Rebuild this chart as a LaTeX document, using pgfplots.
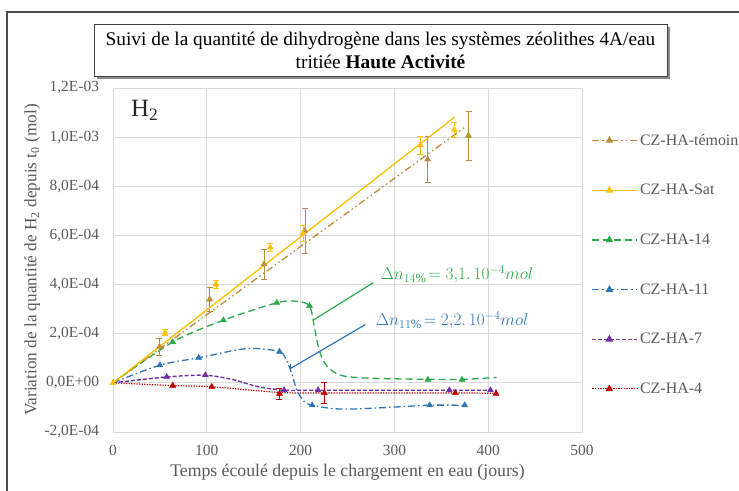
\documentclass[border=0pt]{standalone}
\usepackage{pgfplots}
\pgfplotsset{compat=1.18}
\usepackage{fontspec}
\setmainfont{Liberation Serif}
\usetikzlibrary{shadows}
\definecolor{cTem}{RGB}{184,142,58}
\definecolor{cSat}{RGB}{255,192,0}
\definecolor{cG}{RGB}{43,170,74}
\definecolor{cB}{RGB}{46,117,182}
\definecolor{cP}{RGB}{112,48,160}
\definecolor{cR}{RGB}{192,0,0}
\definecolor{txtgray}{RGB}{89,89,89}
\definecolor{gridgray}{RGB}{217,217,217}
\tikzset{
  temline/.style={cTem, line width=1.3bp, dash pattern=on 7bp off 3bp on 1.5bp off 3bp on 1.5bp off 3bp},
  satline/.style={cSat, line width=1.3bp},
  gline/.style={cG, line width=1.3bp, dash pattern=on 7bp off 4bp},
  bline/.style={cB, line width=1.3bp, dash pattern=on 7bp off 3bp on 1.5bp off 3bp},
  pline/.style={cP, line width=1.4bp, dash pattern=on 4bp off 2bp},
  rline/.style={cR, line width=1.2bp, dash pattern=on 1.3bp off 1.3bp},
}
\begin{document}
\begin{tikzpicture}
\useasboundingbox (0,0) rectangle (739bp,491bp);
\draw[line width=1.2bp, black!70] (7bp,0) -- (7bp,479bp) -- (739bp,479bp);
\begin{axis}[
  at={(113bp,59bp)}, anchor=south west,
  scale only axis, width=469bp, height=344bp,
  xmin=0, xmax=500, ymin=-2e-4, ymax=1.2e-3,
  xtick={0,100,200,300,400,500},
  ytick={-2e-4,0,2e-4,4e-4,6e-4,8e-4,1e-3,1.2e-3},
  yticklabels={{-2,0E-04},{0,0E+00},{2,0E-04},{4,0E-04},{6,0E-04},{8,0E-04},{1,0E-03},{1,2E-03}},
  scaled y ticks=false,
  grid=major, grid style={gridgray, line width=0.8bp},
  axis line style={gridgray, line width=0.8bp},
  major tick length=0pt,
  /pgf/number format/assume math mode=true,
  tick label style={font=\fontsize{15.5}{18}\selectfont, text=txtgray},
  yticklabel style={xshift=-10.5bp},
  xticklabel style={yshift=-10bp},
  xlabel={Temps écoulé depuis le chargement en eau (jours)},
  xlabel style={font=\fontsize{17.8}{20}\selectfont, text=txtgray, at={(axis description cs:0.5,-0.118)}, anchor=center},
  ylabel={Variation de la quantité de H\textsubscript{2} depuis t\textsubscript{0} (mol)},
  ylabel style={font=\fontsize{17.3}{20}\selectfont, text=txtgray, at={(axis description cs:-0.172,0.5)}, anchor=center},
  legend style={at={(axis description cs:1.016,0.878)}, anchor=north west, draw=none, fill=none,
    font=\fontsize{16}{18}\selectfont, text=txtgray, row sep=33.6bp, inner sep=2bp},
  legend cell align=left,
  legend image code/.code={\draw[mark repeat=2,mark phase=2,#1] plot coordinates {(0bp,0bp)(17bp,0bp)(45bp,0bp)};},
  clip=false,
]
\addlegendimage{temline, mark=triangle*, mark size=3.2bp, mark options={solid}}
\addlegendentry{CZ-HA-témoin}
\addlegendimage{satline, mark=triangle*, mark size=3.2bp, mark options={solid}}
\addlegendentry{CZ-HA-Sat}
\addlegendimage{gline, mark=triangle*, mark size=3.2bp, mark options={solid}}
\addlegendentry{CZ-HA-14}
\addlegendimage{bline, mark=triangle*, mark size=3.2bp, mark options={solid}}
\addlegendentry{CZ-HA-11}
\addlegendimage{pline, mark=triangle*, mark size=3.2bp, mark options={solid}}
\addlegendentry{CZ-HA-7}
\addlegendimage{rline, mark=triangle*, mark size=3.2bp, mark options={solid}}
\addlegendentry{CZ-HA-4}

% CZ-HA-4
\addplot[rline, smooth, forget plot] coordinates {(0,0)(63.7,-1.1e-5)(105.3,-1.6e-5)(177.5,-3.9e-5)(225.4,-4.1e-5)(364.9,-4.1e-5)(408.4,-4.3e-5)};
\addplot[cR, only marks, mark=triangle*, mark size=3.5bp, forget plot,
  error bars/.cd, y dir=both, y explicit, error bar style={cR, line width=0.6bp}, error mark options={rotate=90, mark size=3bp, line width=0.6bp, cR}]
  coordinates {(63.7,-1.1e-5) (105.3,-1.6e-5) (177.5,-4.4e-5) +- (0,2.2e-5) (225.4,-4.1e-5) +- (0,4.2e-5) (364.9,-4.1e-5) (408.4,-4.4e-5)};

% CZ-HA-7
\addplot[pline, smooth, forget plot] coordinates {(0,0)(57.3,2.4e-5)(98.5,3.1e-5)(128,1.3e-5)(153,-1.4e-5)(182.5,-3.0e-5)(218.7,-3.0e-5)(358.6,-3.0e-5)(402.4,-3.0e-5)(409,-3.1e-5)};
\addplot[cP, only marks, mark=triangle*, mark size=3.5bp, forget plot]
  coordinates {(57.3,2.4e-5)(98.5,3.1e-5)(182.5,-3.0e-5)(218.7,-3.0e-5)(358.6,-3.0e-5)(402.4,-3.0e-5)};

% CZ-HA-11
\addplot[bline, smooth, forget plot] coordinates {(0,0)(50,7.2e-5)(91.4,1.02e-4)(135,1.36e-4)(157,1.39e-4)(177.5,1.27e-4)(183.3,1.05e-4)(190.4,4.1e-5)(195.7,-2.7e-5)(203.5,-7.5e-5)(212.3,-9.1e-5)(235,-1.05e-4)(260,-1.06e-4)(302.7,-9.8e-5)(337.6,-9.1e-5)(375,-9.1e-5)};
\addplot[cB, only marks, mark=triangle*, mark size=3.5bp, forget plot]
  coordinates {(50,7.2e-5)(91.4,1.02e-4)(177.5,1.27e-4)(212.3,-9.1e-5)(337.6,-9.1e-5)(375,-9.1e-5)};

% CZ-HA-14
\addplot[gline, smooth, forget plot] coordinates {(0,0)(63.7,1.66e-4)(117.7,2.55e-4)(174.7,3.26e-4)(195,3.32e-4)(209.5,3.13e-4)(215,2.2e-4)(220,1.3e-4)(228,6.8e-5)(242,3.2e-5)(267,2e-5)(335.7,1.4e-5)(372,1.4e-5)(409,2.2e-5)};
\addplot[cG, only marks, mark=triangle*, mark size=3.5bp, forget plot]
  coordinates {(63.7,1.66e-4)(117.7,2.55e-4)(174.7,3.26e-4)(209.5,3.13e-4)(335.7,1.3e-5)(372,1.3e-5)};

% CZ-HA-témoin
\addplot[temline, forget plot] coordinates {(0,0)(375,1.04e-3)};
\addplot[cTem, only marks, mark=triangle*, mark size=3.5bp, forget plot,
  error bars/.cd, y dir=both, y explicit, error bar style={cTem, line width=0.6bp}, error mark options={rotate=90, mark size=3bp, line width=0.6bp, cTem}]
  coordinates {(49.5,1.47e-4) +- (0,3.5e-5) (103,3.4e-4) +- (0,5e-5) (161,4.83e-4) +- (0,6e-5) (204.5,6.19e-4) +- (0,9e-5) (335.5,9.1e-4) +- (0,9.5e-5) (379,1.006e-3) +- (0,1.0e-4)};

% CZ-HA-Sat
\addplot[satline, forget plot] coordinates {(0,0)(364,1.081e-3)};
\addplot[cSat, only marks, mark=triangle*, mark size=3.5bp, forget plot,
  error bars/.cd, y dir=both, y explicit, error bar style={cSat, line width=0.6bp}, error mark options={rotate=90, mark size=3bp, line width=0.6bp, cSat}]
  coordinates {(0,0) (55.5,2.04e-4) +- (0,1.2e-5) (109.8,4.01e-4) +- (0,1.6e-5) (167.6,5.51e-4) +- (0,1.5e-5) (202.4,6.09e-4) +- (0,3.3e-5) (327.6,9.68e-4) +- (0,3.6e-5) (364,1.03e-3) +- (0,2.9e-5)};

% annotations
\draw[cG, line width=1.2bp] (axis cs:213.5,2.55e-4) -- (axis cs:277.5,4.08e-4);
\draw[cB, line width=1.2bp] (axis cs:189,7.6e-5) -- (axis cs:189,5.4e-5);
\draw[cB, line width=1.2bp] (axis cs:189,5.8e-5) -- (axis cs:269,2.37e-4);
\node[cG, anchor=west, inner sep=0pt, font=\fontsize{18}{20}\selectfont] at (axis cs:285,4.42e-4) {$\Delta n_{14\%}\!= 3{,}1.\,10^{-4}mol$};
\node[cB, anchor=west, inner sep=0pt, font=\fontsize{18}{20}\selectfont] at (axis cs:280,2.54e-4) {$\Delta n_{11\%}\!= 2{,}2.\,10^{-4}mol$};
\node[anchor=west, inner sep=0pt, font=\fontsize{25}{28}\selectfont, text=black!85] at (axis cs:19,1.11e-3) {H\textsubscript{2}};
\end{axis}
\node[draw=black!75, line width=0.8bp, fill=white, drop shadow={shadow xshift=3bp, shadow yshift=-3bp, fill=black!45, opacity=1},
  minimum width=573bp, minimum height=52bp, align=center, font=\fontsize{19.4}{23}\selectfont, inner sep=1bp]
  at (380.5bp,441bp) {Suivi de la quantité de dihydrogène dans les systèmes zéolithes 4A/eau\\ tritiée \textbf{Haute Activité}};
\end{tikzpicture}
\end{document}
